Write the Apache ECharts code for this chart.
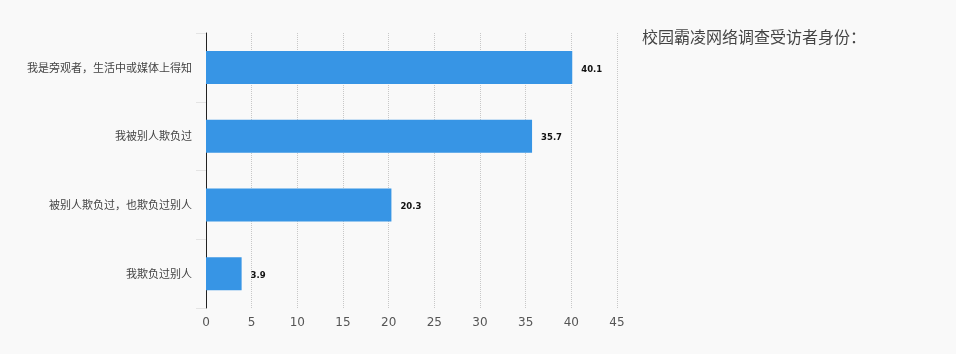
<!DOCTYPE html>
<html><head><meta charset="utf-8">
<style>html,body{margin:0;padding:0;background:#f9f9f9;}#c{width:956px;height:354px;}</style>
<script src="https://cdn.jsdelivr.net/npm/echarts@6/dist/echarts.min.js"></script>
</head><body><div id="c"></div>
<script>
const categories = ['我是旁观者，生活中或媒体上得知', '我被别人欺负过', '被别人欺负过，也欺负过别人', '我欺负过别人'];
const values = [40.1, 35.7, 20.3, 3.9];
const titleText = '校园霸凌网络调查受访者身份：';

const chart = echarts.init(document.getElementById('c'));
chart.setOption({
  backgroundColor: '#f9f9f9',
  animation: false,
  title: {
    text: titleText, left: 637, top: 24,
    textStyle: { fontSize: 16, fontWeight: 'normal', color: '#444', fontFamily: 'Noto Sans CJK SC' }
  },
  grid: { left: 206, right: 339, top: 33, bottom: 46 },
  xAxis: {
    type: 'value', min: 0, max: 45, interval: 5,
    axisLine: { show: false }, axisTick: { show: false },
    axisLabel: { color: '#555', fontSize: 12, margin: 9, fontFamily: 'DejaVu Sans' },
    splitLine: { show: true, lineStyle: { type: 'dotted', color: '#c8c8c8', width: 1 } }
  },
  yAxis: {
    type: 'category', data: categories, inverse: true,
    axisLine: { show: true, lineStyle: { color: '#222', width: 1 } },
    axisTick: { show: true, length: 10, lineStyle: { color: '#e4e4e4' } },
    axisLabel: { color: '#444', fontSize: 11, margin: 14, fontFamily: 'Noto Sans CJK SC' }
  },
  series: [{
    type: 'bar', data: values, barWidth: 33,
    itemStyle: { color: '#3795e5' },
    label: { show: true, position: 'right', distance: 9, color: '#111', fontSize: 8.5, fontWeight: 'bold', fontFamily: 'DejaVu Sans', offset: [0, 2] }
  }]
});
</script></body></html>
